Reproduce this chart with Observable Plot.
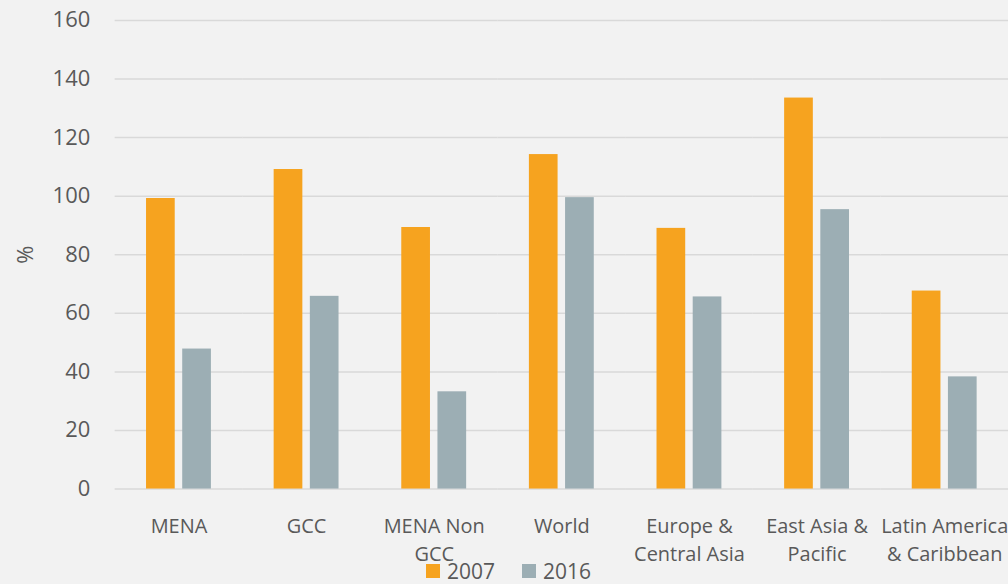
<!DOCTYPE html>
<html>
<head>
<meta charset="utf-8">
<script src="https://cdn.jsdelivr.net/npm/d3@7"></script>
<script src="https://cdn.jsdelivr.net/npm/@observablehq/plot@0.6"></script>
<style>
  html, body { margin: 0; padding: 0; background: #f2f2f2; overflow: hidden; width: 1008px; height: 584px; }
  #wrap { position: relative; width: 1008px; height: 584px; font-family: "Open Sans", sans-serif; color: #595959; }
  #chart { position: absolute; left: 0; top: 0; }
  #legend { position: absolute; left: 426px; top: 559px; display: flex; align-items: center; font-size: 21px; line-height: 24px; color: #595959; }
  .sw { width: 14px; height: 14px; display: inline-block; margin-right: 7px; }
  .item { display: flex; align-items: center; margin-right: 27px; }
</style>
</head>
<body>
<div id="wrap">
  <div id="chart"></div>
  <div id="legend"></div>
</div>
<script>
const categories = ["MENA", "GCC", "MENA Non GCC", "World", "Europe & Central Asia", "East Asia & Pacific", "Latin America & Caribbean"];
const tickLabels = ["MENA", "GCC", "MENA Non\nGCC", "World", "Europe &\nCentral Asia", "East Asia &\nPacific", "Latin America\n& Caribbean"];
const years = ["2007", "2016"];
const values2007 = [99.2, 109.1, 89.3, 114.2, 89.0, 133.5, 67.6];
const values2016 = [47.8, 65.8, 33.2, 99.5, 65.6, 95.4, 38.3];
const yTicks = [0, 20, 40, 60, 80, 100, 120, 140, 160];
const colors = ["#F6A31F", "#9CAEB4"];

const data = [];
categories.forEach((c, i) => {
  data.push({category: c, year: years[0], value: values2007[i]});
  data.push({category: c, year: years[1], value: values2016[i]});
});

const chart = Plot.plot({
  width: 1011,
  height: 558,
  marginLeft: 115,
  marginRight: 0,
  marginTop: 20,
  marginBottom: 68,
  style: {background: "transparent", fontFamily: "'Open Sans', sans-serif", color: "#595959", overflow: "visible"},
  fx: {domain: categories, padding: 0, label: null},
  x: {domain: years, paddingInner: 0.207, paddingOuter: 0.867, round: false, axis: null},
  y: {domain: [0, 160], ticks: yTicks, label: "%"},
  color: {domain: years, range: colors},
  marks: [
    Plot.ruleY(yTicks, {stroke: "#d9d9d9", strokeWidth: 1.5}),
    Plot.barY(data, {fx: "category", x: "year", y: "value", fill: "year", inset: 0}),
    Plot.axisFx({anchor: "bottom", tickSize: 0, tickPadding: 24, fontSize: 20, lineHeight: 1.4, label: null,
      tickFormat: d => tickLabels[categories.indexOf(d)]}),
    Plot.axisY({ticks: yTicks, tickSize: 0, tickPadding: 25, fontSize: 22, label: "%", labelAnchor: "center", labelArrow: "none", labelOffset: 98})
  ]
});
document.getElementById("chart").appendChild(chart);

const legend = document.getElementById("legend");
years.forEach((y, i) => {
  const item = document.createElement("div");
  item.className = "item";
  const sw = document.createElement("span");
  sw.className = "sw";
  sw.style.background = colors[i];
  const t = document.createElement("span");
  t.textContent = y;
  item.appendChild(sw);
  item.appendChild(t);
  legend.appendChild(item);
});
</script>
</body>
</html>
